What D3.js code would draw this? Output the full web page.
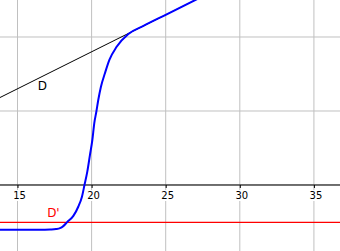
<!DOCTYPE html>
<html>
<head>
<meta charset="utf-8">
<script src="https://cdn.jsdelivr.net/npm/d3@7"></script>
<style>
  html, body { margin: 0; padding: 0; background: #fff; }
  svg { display: block; }
</style>
</head>
<body>
<svg id="chart" width="340" height="251"></svg>
<script>
// view window
var xView = [13.82, 36.76];
var yView = [-4.46, 12.5];

var xTicks = [15, 20, 25, 30, 35];
var xGrid = [10, 15, 20, 25, 30, 35];
var yGrid = [-5, 0, 5, 10];

// blue curve, points
var curveX = [13.8, 15.0, 16.5, 17.2, 17.6, 17.87, 18.09, 18.36, 18.77, 19.10, 19.35, 19.52, 19.71, 19.89, 20.05, 20.18, 20.32, 20.45, 20.63, 20.90, 21.20, 21.69, 22.48, 23.5, 25.0, 27.3];
var curveY = [-3.03, -3.03, -3.03, -3.01, -2.98, -2.92, -2.78, -2.50, -2.09, -1.47, -0.79, 0.0, 0.90, 2.03, 3.04, 4.17, 4.95, 5.74, 6.64, 7.55, 8.45, 9.34, 10.20, 10.75, 11.5, 12.65];

// line D (tangent) and D' (horizontal)
var lineDX = [13.5, 27.5];
var lineDY = [5.75, 12.75];
var lineD2X = [13.5, 37];
var lineD2Y = [-2.52, -2.52];

var width = 340, height = 251;
var svg = d3.select("#chart");

var x = d3.scaleLinear().domain(xView).range([0, width]);
var y = d3.scaleLinear().domain(yView).range([height, 0]);

// grid
svg.append("g").selectAll("line")
    .data(xGrid)
    .enter()
    .append("line")
    .attr("x1", function (d) { return x(d); })
    .attr("x2", function (d) { return x(d); })
    .attr("y1", 0).attr("y2", height)
    .attr("stroke", "#c0c0c0")
    .attr("stroke-width", 1);

svg.append("g").selectAll("line")
    .data(yGrid)
    .enter()
    .append("line")
    .attr("x1", 0).attr("x2", width)
    .attr("y1", function (d) { return y(d); })
    .attr("y2", function (d) { return y(d); })
    .attr("stroke", "#c0c0c0")
    .attr("stroke-width", 1);

// x axis
var axis = svg.append("g")
    .attr("transform", "translate(0," + y(0) + ")")
    .call(d3.axisBottom(x).tickValues(xTicks).tickSize(3).tickSizeOuter(0).tickPadding(4));
axis.select(".domain").remove();
axis.append("line")
    .attr("x1", 0).attr("x2", width)
    .attr("stroke", "#000").attr("stroke-width", 1);
axis.selectAll(".tick line").attr("stroke", "#000");
axis.selectAll(".tick text")
    .attr("font-family", "DejaVu Sans, sans-serif")
    .attr("font-size", 10)
    .attr("fill", "#000")
    .attr("dx", 1.5);
axis.selectAll(".tick").insert("rect", "text")
    .attr("x", -6).attr("y", 5).attr("width", 15).attr("height", 11)
    .attr("fill", "#fff");

// lines
var line = d3.line()
    .x(function (d) { return x(d[0]); })
    .y(function (d) { return y(d[1]); });

svg.append("path")
    .datum(d3.zip(lineD2X, lineD2Y))
    .attr("d", line)
    .attr("fill", "none")
    .attr("stroke", "#ff0000")
    .attr("stroke-width", 1.2);

svg.append("path")
    .datum(d3.zip(lineDX, lineDY))
    .attr("d", line)
    .attr("fill", "none")
    .attr("stroke", "#000")
    .attr("stroke-width", 1);

svg.append("path")
    .datum(d3.zip(curveX, curveY))
    .attr("d", line.curve(d3.curveMonotoneX))
    .attr("fill", "none")
    .attr("stroke", "#0000ff")
    .attr("stroke-width", 2);

// labels
svg.append("text")
    .attr("x", x(16.36)).attr("y", y(6.39))
    .attr("font-family", "DejaVu Sans, sans-serif")
    .attr("font-size", 12)
    .attr("fill", "#000")
    .text("D");

svg.append("text")
    .attr("x", x(17.0)).attr("y", y(-2.14))
    .attr("font-family", "DejaVu Sans, sans-serif")
    .attr("font-size", 12)
    .attr("fill", "#ff0000")
    .text("D'");
</script>
</body>
</html>
